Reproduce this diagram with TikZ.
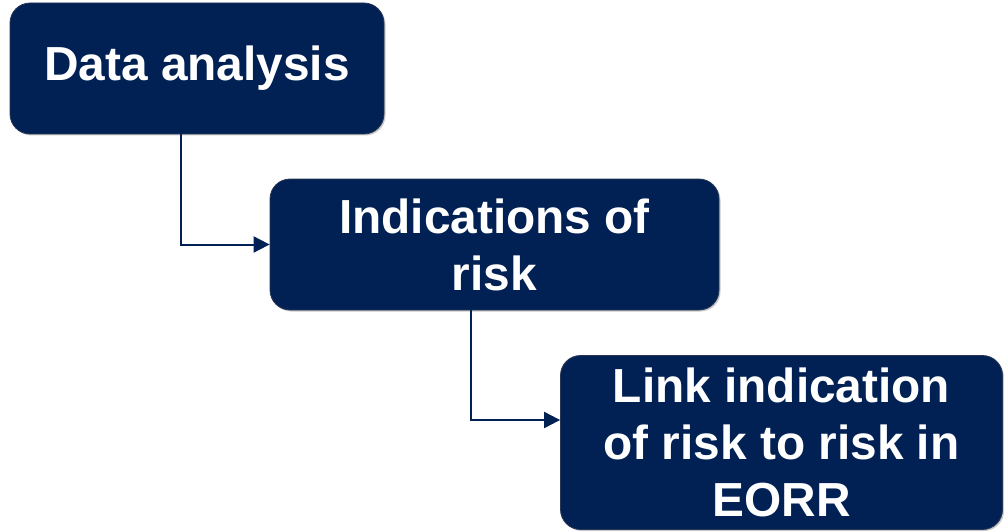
\documentclass[tikz,border=0pt]{standalone}
\usepackage{fontspec}
\setmainfont{Liberation Sans}
\usetikzlibrary{arrows.meta,calc,shadows}
\definecolor{navy}{RGB}{1,33,84}
\definecolor{navyedge}{RGB}{40,55,85}
\tikzset{
  stepbox/.style={rectangle, rounded corners=20pt, fill=navy, draw=navyedge, line width=0.8pt,
    text=white, font=\bfseries\fontsize{47.8}{57}\selectfont, align=center, inner sep=0pt,
    drop shadow={shadow xshift=1.5pt, shadow yshift=-1.5pt, opacity=0.35, fill=black!60}},
  link/.style={draw=navy, line width=2pt, -{Triangle[length=16pt,width=16pt]}}
}
\begin{document}
\begin{tikzpicture}[x=1pt,y=-1pt]
  \useasboundingbox (0,0) rectangle (1004,532);
  \node[stepbox, minimum width=374pt, minimum height=131pt] (b1) at (197,68.5) {Data analysis};
  \node[stepbox, minimum width=449pt, minimum height=131pt] (b2) at (494.5,244.5) {Indications of\\risk};
  \node[stepbox, minimum width=442pt, minimum height=174pt] (b3) at (781.5,442.5) {Link indication\\of risk to risk in\\EORR};
  \draw[link] ($(b1.south west)+(171,0)$) |- (b2.west);
  \draw[link] ($(b2.south west)+(201,0)$) |- ($(b3.west)+(0,-22.5)$);
\end{tikzpicture}
\end{document}
